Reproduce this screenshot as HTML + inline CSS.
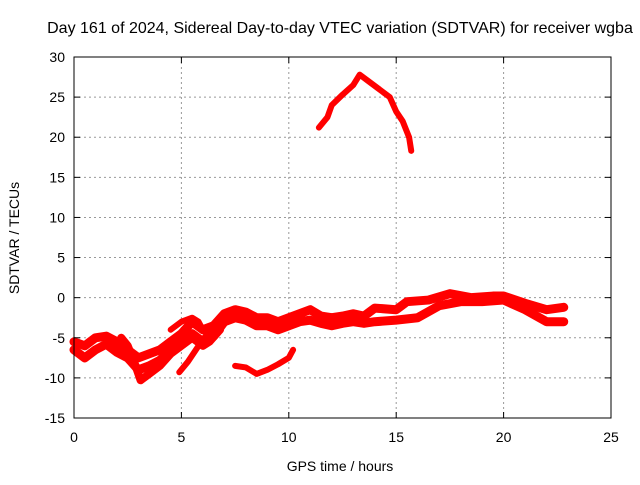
<!DOCTYPE html>
<html><head><meta charset="utf-8"><style>
body{margin:0;background:#fff;}
text{font-family:"Liberation Sans",sans-serif;font-size:14px;fill:#000;}
</style></head><body>
<svg id="chart" width="640" height="480" xmlns="http://www.w3.org/2000/svg">
<rect width="640" height="480" fill="#fff"/>
<text x="340" y="33" text-anchor="middle" style="font-size:16px">Day 161 of 2024, Sidereal Day-to-day VTEC variation (SDTVAR) for receiver wgba</text>
<text x="340" y="471" text-anchor="middle">GPS time / hours</text>
<text transform="translate(19,238) rotate(-90)" text-anchor="middle">SDTVAR / TECUs</text>
<g id="grid"></g><g id="marks"></g>
<rect x="74" y="57" width="537" height="361" fill="none" stroke="#000" stroke-width="1"/>
<g id="ticks"></g>
</svg>
<script>
const xTicks=[0,5,10,15,20,25];
const yTicks=[-15,-10,-5,0,5,10,15,20,25,30];
const mainUpper=[[0,-5.5],[0.5,-6],[1,-5],[1.5,-4.8],[2,-5.5],[2.5,-6.5],[3,-7.5],[3.5,-7],[4,-6.5],[4.5,-5.5],[5,-4.5],[5.5,-3],[6,-4],[6.5,-3.5],[7,-2],[7.5,-1.5],[8,-1.8],[8.5,-2.5],[9,-2.5],[9.5,-3],[10,-2.5],[10.5,-2],[11,-1.5],[11.5,-2.3],[12,-2.5],[12.5,-2.3],[13,-2],[13.5,-2.3],[14,-1.3],[15,-1.5],[15.5,-0.5],[16.5,-0.3],[17.5,0.5],[18.5,0],[19.5,0.2],[20,0.2],[21,-0.7],[22,-1.5],[22.8,-1.2]];
const mainLower=[[0,-6.5],[0.5,-7.5],[1,-6.5],[1.5,-5.8],[2,-6.8],[2.5,-7.5],[3,-9],[3.5,-8.5],[4,-7.8],[4.5,-6.5],[5,-5.5],[5.5,-4.5],[6,-5.5],[6.5,-4.8],[7,-3],[7.5,-2.5],[8,-2.8],[8.5,-3.5],[9,-3.5],[9.5,-4],[10,-3.5],[10.5,-3],[11,-2.8],[11.5,-3.2],[12,-3.5],[12.5,-3.2],[13,-3],[13.5,-3.2],[14,-3],[15,-2.8],[16,-2.5],[17,-1],[18,-0.5],[19,-0.5],[20,-0.3],[21,-1.5],[22,-3],[22.8,-3]];
const strandB=[[2.2,-5],[2.5,-6],[2.8,-8],[3.1,-10.3],[3.5,-9.5],[4,-8.5],[4.5,-7],[5,-6],[5.5,-5],[6,-6],[6.3,-5.5],[6.8,-4]];
const strandC=[[4.9,-9.3],[5.3,-8],[5.8,-6],[6.2,-4.5],[7,-2.5]];
const strandD=[[4.5,-4],[5,-3],[5.5,-2.5],[5.8,-3],[6,-4]];
const lowSegment=[[7.5,-8.5],[8,-8.7],[8.5,-9.5],[9,-9],[9.5,-8.3],[10,-7.5],[10.2,-6.5]];
const arc=[[11.4,21.2],[11.8,22.5],[12,24],[12.5,25.3],[13,26.5],[13.3,27.8],[13.7,27],[14.2,26],[14.7,25],[15,23.2],[15.3,22],[15.6,20],[15.7,18.3]];
const X0=74,X1=611,Y0=418,Y1=57;
function sx(v){return X0+(v-0)/25*(X1-X0);}
function sy(v){return Y0-(v+15)/45*(Y0-Y1);}
const NS="http://www.w3.org/2000/svg";
const grid=document.getElementById('grid'),ticks=document.getElementById('ticks'),marks=document.getElementById('marks');
function mk(t,a,p){const e=document.createElementNS(NS,t);for(const k in a)e.setAttribute(k,a[k]);p.appendChild(e);return e;}
xTicks.forEach(v=>{const x=sx(v);
 if(v>0&&v<25){const g=mk('line',{x1:x,x2:x,y1:Y1,y2:Y0,stroke:'#999','stroke-dasharray':'2,3'},grid);
 
 }
 const t=mk('text',{x:x,y:Y0+24,'text-anchor':'middle'},ticks);t.textContent=v;
 
 
 mk('line',{x1:x,x2:x,y1:Y0,y2:Y0-6,stroke:'#000'},ticks);mk('line',{x1:x,x2:x,y1:Y1,y2:Y1+6,stroke:'#000'},ticks);});
yTicks.forEach(v=>{const y=sy(v);
 if(v>-15&&v<30){const g=mk('line',{x1:X0,x2:X1,y1:y,y2:y,stroke:'#999','stroke-dasharray':'2,3'},grid);
 
 }
 const t=mk('text',{x:X0-9,y:y+5,'text-anchor':'end'},ticks);t.textContent=v;
 
 
 mk('line',{x1:X0,x2:X0+6,y1:y,y2:y,stroke:'#000'},ticks);mk('line',{x1:X1,x2:X1-6,y1:y,y2:y,stroke:'#000'},ticks);});
function series(arr,name,w){const p=mk('polyline',{points:arr.map(d=>sx(d[0])+','+sy(d[1])).join(' '),fill:'none',stroke:'#f00','stroke-width':w,'stroke-linejoin':'round','stroke-linecap':'round'},marks);
 
 }
series(mainUpper,'series-main-upper',9);
series(mainLower,'series-main-lower',9);
series(strandB,'series-strand-b',8);
series(strandC,'series-strand-c',6);
series(strandD,'series-strand-d',6);
series(lowSegment,'series-low-segment',6);
series(arc,'series-arc',6);
</script>
</body></html>
